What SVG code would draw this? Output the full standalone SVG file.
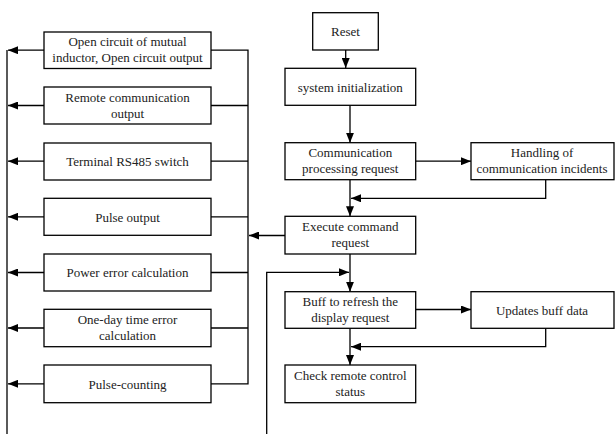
<svg xmlns="http://www.w3.org/2000/svg" width="615" height="434" viewBox="0 0 615 434">
<style>
rect{fill:#fff;stroke:#000;stroke-width:1.3}
text{font-family:'Liberation Serif','Times New Roman',Times,serif;font-size:13px;fill:#222;text-anchor:middle}
.c path{fill:none;stroke:#000;stroke-width:1.3}
</style>
<defs>
<marker id="ah" viewBox="0 0 10 8" refX="10" refY="4" markerWidth="10" markerHeight="8" markerUnits="userSpaceOnUse" orient="auto">
<path d="M0,0L10,4L0,8z" fill="#000"/>
</marker>
</defs>
<rect width="615" height="434" style="fill:#fff;stroke:none"/>
<g class="c">
<path d="M7,50V434"/>
<path d="M44,50.2H8" marker-end="url(#ah)"/>
<path d="M44,105.5H8" marker-end="url(#ah)"/>
<path d="M44,161.2H8" marker-end="url(#ah)"/>
<path d="M44,216.8H8" marker-end="url(#ah)"/>
<path d="M44,272.5H8" marker-end="url(#ah)"/>
<path d="M44,328H8" marker-end="url(#ah)"/>
<path d="M44,383.8H8" marker-end="url(#ah)"/>
<path d="M211,50.2H248V383.8H211M211,105.5H248M211,161.2H248M211,216.8H248M211,272.5H248M211,328H248"/>
<path d="M285,235.5H249" marker-end="url(#ah)"/>
<path d="M345.7,50V68" marker-end="url(#ah)"/>
<path d="M350,105.3V142.7" marker-end="url(#ah)"/>
<path d="M415.7,161.2H471" marker-end="url(#ah)"/>
<path d="M545.7,179.7V198.3H351" marker-end="url(#ah)"/>
<path d="M350,179.7V216.3" marker-end="url(#ah)"/>
<path d="M350,254V291.7" marker-end="url(#ah)"/>
<path d="M266.7,434V272.3H349" marker-end="url(#ah)"/>
<path d="M415.7,309.5H471" marker-end="url(#ah)"/>
<path d="M545.7,328.3V346.7H351" marker-end="url(#ah)"/>
<path d="M350,328.3V365" marker-end="url(#ah)"/>
</g>
<g id="n1"><rect x="44" y="32" width="167" height="36.5"/><text x="127.5" y="46.2">Open circuit of mutual</text><text x="127.5" y="62.4">inductor, Open circuit output</text></g>
<g id="n2"><rect x="44" y="87" width="167" height="37"/><text x="127.5" y="101.6">Remote communication</text><text x="127.5" y="117.6">output</text></g>
<g id="n3"><rect x="44" y="143" width="167" height="37"/><text x="127.5" y="166">Terminal RS485 switch</text></g>
<g id="n4"><rect x="44" y="198.3" width="167" height="37"/><text x="127.5" y="221.5">Pulse output</text></g>
<g id="n5"><rect x="44" y="254" width="167" height="37"/><text x="127.5" y="277">Power error calculation</text></g>
<g id="n6"><rect x="44" y="309.3" width="167" height="37.4"/><text x="127.5" y="324">One-day  time error</text><text x="127.5" y="340">calculation</text></g>
<g id="n7"><rect x="44" y="365" width="167" height="37.7"/><text x="127.5" y="388.5">Pulse-counting</text></g>
<g id="reset"><rect x="312.7" y="12.7" width="65.6" height="37.3"/><text x="345.5" y="36">Reset</text></g>
<g id="init"><rect x="285" y="68.3" width="130.7" height="37"/><text x="350.3" y="91.5">system initialization</text></g>
<g id="comm"><rect x="285" y="142.7" width="130.7" height="37"/><text x="350.3" y="157.3">Communication</text><text x="350.3" y="173.3">processing request</text></g>
<g id="handle"><rect x="471" y="142.7" width="143" height="37"/><text x="542" y="157.3">Handling of</text><text x="542" y="173.3">communication incidents</text></g>
<g id="exec"><rect x="285" y="216.3" width="130.7" height="37.7"/><text x="350.3" y="231">Execute command</text><text x="350.3" y="247">request</text></g>
<g id="buff"><rect x="285" y="291.7" width="130.7" height="36.6"/><text x="350.3" y="306">Buff to refresh the</text><text x="350.3" y="322">display request</text></g>
<g id="update"><rect x="471" y="291.7" width="143" height="36.6"/><text x="542" y="314.5">Updates buff data</text></g>
<g id="check"><rect x="285" y="365" width="130.7" height="37.7"/><text x="350.3" y="380">Check remote control</text><text x="350.3" y="396">status</text></g>
</svg>
